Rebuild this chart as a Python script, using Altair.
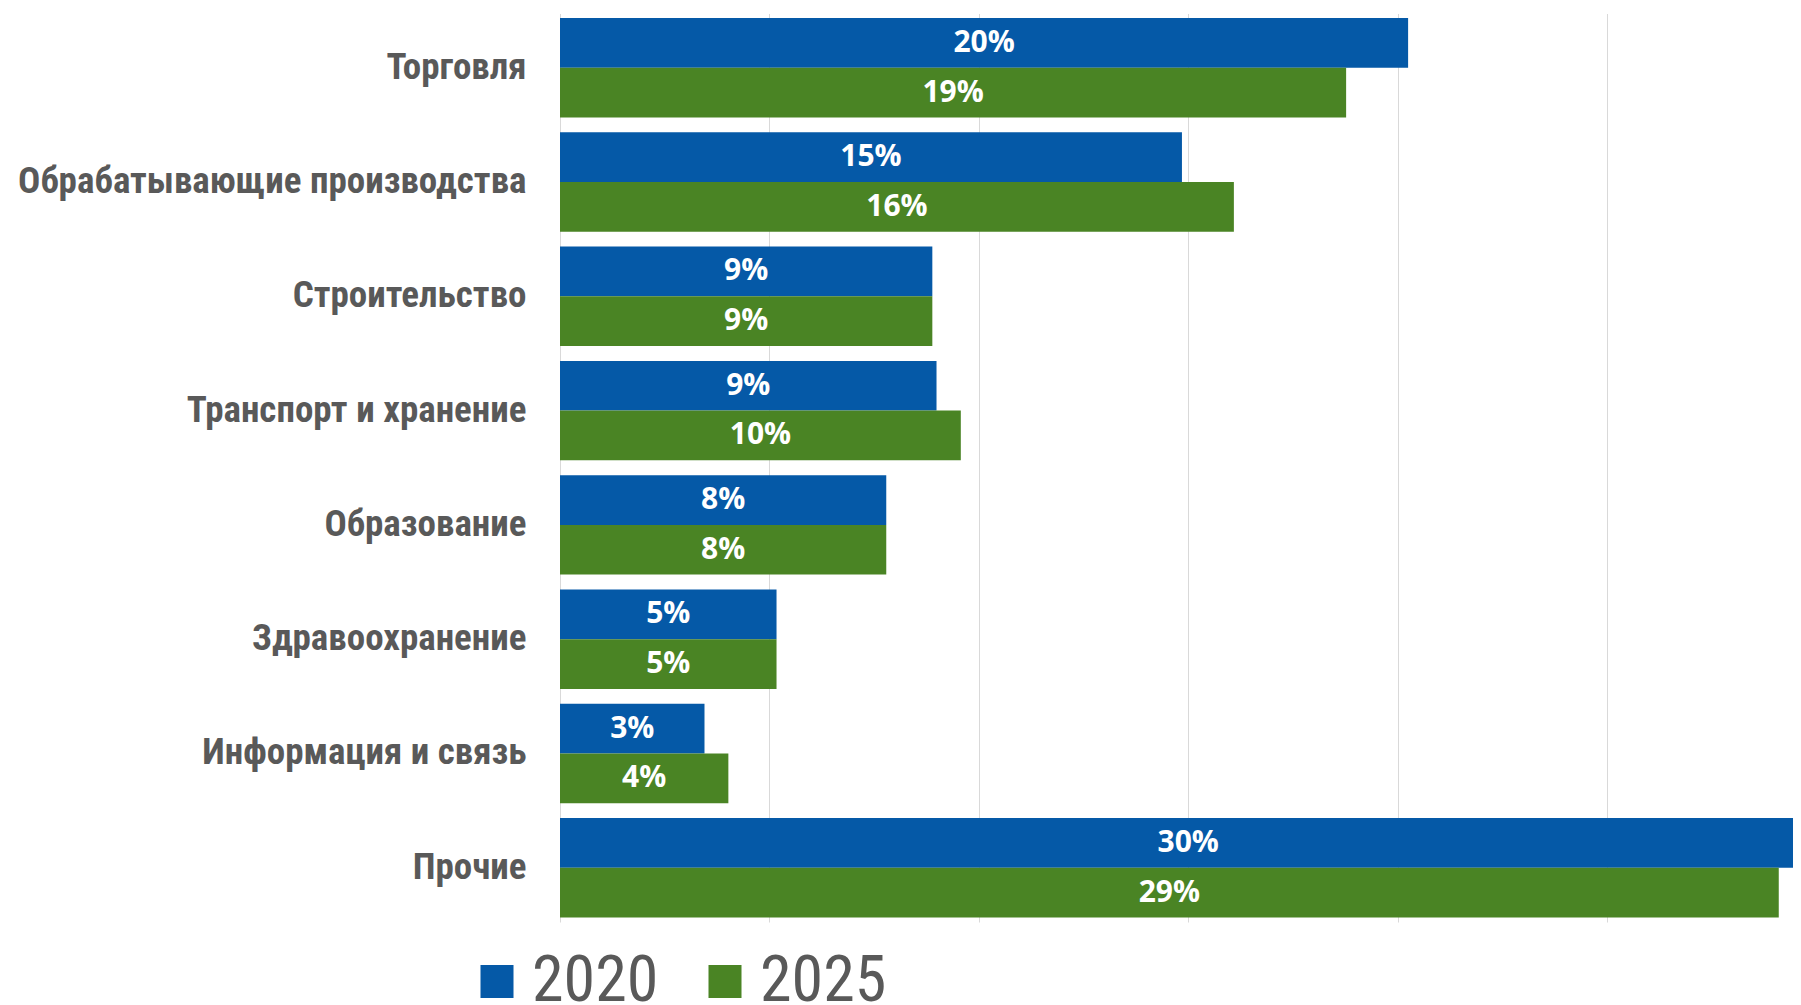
import altair as alt
import pandas as pd

categories = [
    "Торговля",
    "Обрабатывающие производства",
    "Строительство",
    "Транспорт и хранение",
    "Образование",
    "Здравоохранение",
    "Информация и связь",
    "Прочие",
]
years = ["2020", "2025"]
values_2020 = [20.25, 14.85, 8.89, 8.99, 7.79, 5.17, 3.45, 30.0]
values_2025 = [18.77, 16.09, 8.89, 9.57, 7.79, 5.17, 4.02, 29.1]
labels_2020 = ["20%", "15%", "9%", "9%", "8%", "5%", "3%", "30%"]
labels_2025 = ["19%", "16%", "9%", "10%", "8%", "5%", "4%", "29%"]
colors = ["#0559a7", "#4a8424"]

rows = []
for c, v, l in zip(categories, values_2020, labels_2020):
    rows.append({"cat": c, "year": "2020", "value": v, "label": l})
for c, v, l in zip(categories, values_2025, labels_2025):
    rows.append({"cat": c, "year": "2025", "value": v, "label": l})
df = pd.DataFrame(rows)

NARROW = "Roboto Condensed, DejaVu Sans Condensed, Liberation Sans Narrow, Roboto, sans-serif"

y_enc = alt.Y(
    "cat:N",
    sort=categories,
    scale=alt.Scale(paddingInner=0.13, paddingOuter=0.04),
    axis=alt.Axis(
        title=None,
        ticks=False,
        domain=False,
        labelFont=NARROW,
        labelFontWeight="bold",
        labelFontSize=37,
        labelColor="#595959",
        labelPadding=34,
        labelLimit=1000,
    ),
)
yoff = alt.YOffset("year:N", sort=years)
x_scale = alt.Scale(domain=[0, 29.44], nice=False, zero=True)

base = alt.Chart(df).encode(y=y_enc, yOffset=yoff)

bars = base.mark_bar(clip=True).encode(
    x=alt.X(
        "value:Q",
        scale=x_scale,
        axis=alt.Axis(
            values=[0, 5, 10, 15, 20, 25],
            labels=False,
            ticks=False,
            domain=False,
            grid=True,
            gridColor="#d9d9d9",
            gridWidth=1,
            title=None,
        ),
    ),
    color=alt.Color(
        "year:N",
        sort=years,
        scale=alt.Scale(domain=years, range=colors),
        legend=alt.Legend(
            title=None,
            orient="none",
            legendX=-95,
            legendY=936,
            direction="horizontal",
            symbolType="square",
            symbolSize=1089,
            symbolStrokeWidth=0,
            symbolOpacity=1,
            labelFont=NARROW,
            labelFontSize=64,
            labelColor="#595959",
            labelOffset=3,
            columnPadding=34,
            padding=0,
        ),
    ),
)

text = base.transform_calculate(mid="datum.value / 2").mark_text(
    color="white",
    font="Open Sans",
    fontWeight="bold",
    fontSize=30,
    align="center",
    baseline="middle",
).encode(
    x=alt.X("mid:Q", scale=x_scale),
    text="label:N",
)

chart = (
    alt.layer(bars, text)
    .properties(
        width=1233,
        height=908.5,
        autosize=alt.AutoSizeParams(type="none"),
        padding={"left": 552, "top": 5.5, "right": 0, "bottom": 83},
    )
    .configure_view(stroke=None)
)

chart.save("out.html", embed_options={"renderer": "svg", "actions": False})
